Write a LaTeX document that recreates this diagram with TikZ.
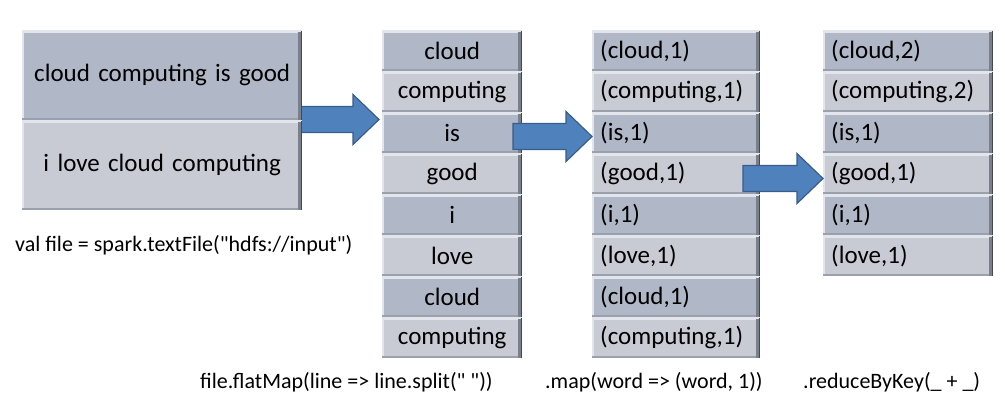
\documentclass[tikz,border=0pt]{standalone}
\usepackage{fontspec}
\setmainfont{Carlito}
\setmonofont{Carlito}
\usetikzlibrary{calc}
\definecolor{cdark}{HTML}{B0B7C6}
\definecolor{clight}{HTML}{C8CBD4}
\definecolor{chi}{HTML}{E2E5EB}
\definecolor{cbot}{HTML}{9AA0AC}
\definecolor{cshade}{HTML}{7A808B}
\definecolor{cedge}{HTML}{45484E}
\definecolor{arrfill}{HTML}{4F81BD}
\definecolor{arrline}{HTML}{385D8A}
\newcommand\mycell[8]{% name, x, y, w, h, fill, align, text
  \node[cellbox, fill=#6, align=#7, text width=#4pt-16pt, minimum height=#5pt, anchor=north west] (#1) at (#2,#3) {#8};
  \fill[chi] (#1.north west) rectangle ($(#1.north east)+(0pt,-3pt)$);
  \fill[chi] (#1.north west) rectangle ($(#1.south west)+(2pt,0pt)$);
  \fill[cbot] ($(#1.south west)+(0pt,2pt)$) rectangle (#1.south east);
  \fill[cshade] ($(#1.north east)+(-4pt,-2pt)$) rectangle (#1.south east);
  \fill[cedge] ($(#1.north east)+(-1.5pt,-1pt)$) rectangle (#1.south east);
}
\newcommand\blockarrow[5]{% name, x0, yc, xbase, xtip
  \coordinate (#1s) at (#2,#3);
  \coordinate (#1t) at (#5,#3);
  \filldraw[arrowshape] ($(#1s)+(0pt,13pt)$) -- ($(#1s)+(0pt,-13pt)$) -- (#4,#3+13) -- (#4,#3+25) -- (#1t) -- (#4,#3-25) -- (#4,#3-13) -- cycle;
}
\begin{document}
\begin{tikzpicture}[x=1pt,y=-1pt,
  cellbox/.style={rectangle, inner xsep=8pt, inner ysep=0pt, font=\fontsize{25}{28}\selectfont},
  codelabel/.style={anchor=west, inner sep=0pt, font=\ttfamily\fontsize{22}{26}\selectfont},
  arrowshape/.style={fill=arrfill, draw=arrline, line width=1.2pt, line join=miter}]
\useasboundingbox[fill=white] (0,0) rectangle (1005,410);

% arrow 1 (behind the first box)
\blockarrow{a1}{296}{119.5}{353}{379}

% first box
\mycell{b1}{22}{30}{280}{90}{cdark}{center}{cloud computing is good}
\mycell{b2}{22}{120}{280}{90}{clight}{center}{i love cloud computing}

% column 2: words
\mycell{w1}{382}{30}{140}{41}{cdark}{center}{cloud}
\mycell{w2}{382}{71}{140}{41}{clight}{center}{computing}
\mycell{w3}{382}{112}{140}{41}{cdark}{center}{is}
\mycell{w4}{382}{153}{140}{41}{clight}{center}{good}
\mycell{w5}{382}{194}{140}{41}{cdark}{center}{i}
\mycell{w6}{382}{235}{140}{41}{clight}{center}{love}
\mycell{w7}{382}{276}{140}{41}{cdark}{center}{cloud}
\mycell{w8}{382}{317}{140}{41}{clight}{center}{computing}

% column 3: pairs
\mycell{p1}{592}{30}{168}{41}{cdark}{left}{(cloud,1)}
\mycell{p2}{592}{71}{168}{41}{clight}{left}{(computing,1)}
\mycell{p3}{592}{112}{168}{41}{cdark}{left}{(is,1)}
\mycell{p4}{592}{153}{168}{41}{clight}{left}{(good,1)}
\mycell{p5}{592}{194}{168}{41}{cdark}{left}{(i,1)}
\mycell{p6}{592}{235}{168}{41}{clight}{left}{(love,1)}
\mycell{p7}{592}{276}{168}{41}{cdark}{left}{(cloud,1)}
\mycell{p8}{592}{317}{168}{41}{clight}{left}{(computing,1)}

% column 4: reduced
\mycell{r1}{823}{30}{170}{41}{cdark}{left}{(cloud,2)}
\mycell{r2}{823}{71}{170}{41}{clight}{left}{(computing,2)}
\mycell{r3}{823}{112}{170}{41}{cdark}{left}{(is,1)}
\mycell{r4}{823}{153}{170}{41}{clight}{left}{(good,1)}
\mycell{r5}{823}{194}{170}{41}{cdark}{left}{(i,1)}
\mycell{r6}{823}{235}{170}{41}{clight}{left}{(love,1)}

% arrows 2 and 3 (on top of the columns)
\blockarrow{a2}{513}{136.5}{566}{592}
\blockarrow{a3}{743}{178.5}{797}{823}

% code labels
\node[codelabel] (l1) at (15,245) {val file = spark.textFile("hdfs://input")};
\node[codelabel] (l2) at (200,382) {file.flatMap(line => line.split(" "))};
\node[codelabel] (l3) at (545,382) {.map(word => (word, 1))};
\node[codelabel] (l4) at (803,382) {.reduceByKey(\_ + \_)};
\end{tikzpicture}
\end{document}
